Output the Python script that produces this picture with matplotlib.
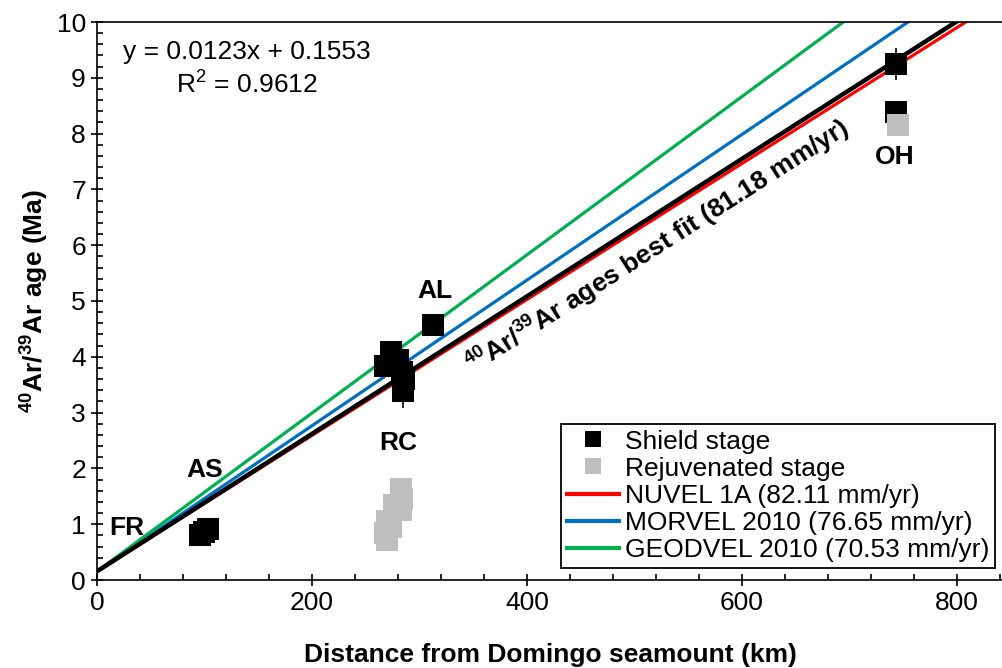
import matplotlib
matplotlib.use('Agg')
import matplotlib.pyplot as plt
from matplotlib.lines import Line2D
from matplotlib.ticker import MultipleLocator

plt.rcParams['font.family'] = ['Liberation Sans', 'DejaVu Sans']
plt.rcParams['mathtext.fontset'] = 'custom'
plt.rcParams['mathtext.rm'] = 'Liberation Sans'
plt.rcParams['mathtext.bf'] = 'Liberation Sans:bold'

# shield stage ages (km from Domingo, Ma, 1 sigma)
shield_dist = [96, 100, 103, 268, 274, 280, 284, 286, 285, 313, 743, 743]
shield_age = [0.80, 0.86, 0.92, 3.83, 4.08, 3.95, 3.72, 3.60, 3.38, 4.57, 9.25, 8.39]
shield_err = [0.05, 0.05, 0.05, 0.05, 0.05, 0.05, 0.05, 0.05, 0.30, 0.05, 0.29, 0.05]

# rejuvenated stage ages
rejuv_dist = [283, 284, 283, 276, 270, 268, 270, 274, 745]
rejuv_age = [1.63, 1.45, 1.25, 1.35, 1.05, 0.85, 0.72, 0.95, 8.15]

# plate velocity models, mm/yr == km/Myr
models = ['NUVEL 1A', 'MORVEL 2010', 'GEODVEL 2010']
rates = [82.11, 76.65, 70.53]
colors = ['#FF0000', '#0070C0', '#00B050']

fit_slope = 0.0123
fit_icpt = 0.1553
fit_rate = 81.18

volcanoes = ['FR', 'AS', 'RC', 'AL', 'OH']
vol_x = [28, 100, 280, 314, 742]
vol_y = [0.93, 1.97, 2.45, 5.18, 7.58]

fs = 19
grey = '#BFBFBF'

fig = plt.figure(figsize=(10.03, 6.68), dpi=100)
ax = fig.add_axes([97 / 1003, 88 / 668, 906 / 1003, 558 / 668])

xs = [0, 850]
for name, r, c in zip(models, rates, colors):
    ax.plot(xs, [fit_icpt + x / r for x in xs], color=c, lw=2.3, zorder=2)
ax.plot(xs, [fit_icpt + x / fit_rate for x in xs], color='black', lw=3.2, zorder=3)

ax.errorbar(shield_dist, shield_age, yerr=shield_err, fmt='s', color='black',
            ms=16.5, mew=0, ecolor='black', elinewidth=1.2, capsize=4, zorder=4)
ax.plot(rejuv_dist, rejuv_age, 's', color=grey, ms=16.5, mew=0, zorder=5)

for name, x, y in zip(volcanoes, vol_x, vol_y):
    ax.text(x, y, name, fontsize=fs, fontweight='bold', ha='center', va='center')

ax.text(0.165, 0.947, f'y = {fit_slope}x + {fit_icpt}', transform=ax.transAxes,
        fontsize=fs, ha='center', va='center')
ax.text(0.165, 0.889, f'R$^2$ = 0.9612', transform=ax.transAxes,
        fontsize=fs, ha='center', va='center')

ax.text(351, 3.68, r'$\mathbf{^{40}}$Ar/$\mathbf{^{39}}$Ar ages best fit (81.18 mm/yr)',
        fontsize=fs, fontweight='bold', rotation=32.6, rotation_mode='anchor',
        ha='left', va='baseline')

ax.set_xlim(0, 843)
ax.set_ylim(0, 10)
ax.xaxis.set_major_locator(MultipleLocator(200))
ax.xaxis.set_minor_locator(MultipleLocator(40))
ax.yaxis.set_major_locator(MultipleLocator(1))
ax.yaxis.set_minor_locator(MultipleLocator(0.2))
ax.tick_params(which='major', direction='inout', length=9, width=1.2, labelsize=fs)
ax.tick_params(which='minor', direction='in', length=4.5, width=1.2)
ax.spines['right'].set_visible(False)
for s in ['left', 'bottom', 'top']:
    ax.spines[s].set_linewidth(1.2)

ax.set_xlabel('Distance from Domingo seamount (km)', fontsize=fs, fontweight='bold',
              labelpad=20)
ax.set_ylabel(r'$\mathbf{^{40}}$Ar/$\mathbf{^{39}}$Ar age (Ma)', fontsize=fs, fontweight='bold')

handles = [Line2D([], [], ls='none', marker='s', color='black', ms=11.5, mew=0),
           Line2D([], [], ls='none', marker='s', color=grey, ms=11.5, mew=0)]
labels = ['Shield stage', 'Rejuvenated stage']
for name, r, c in zip(models, rates, colors):
    handles.append(Line2D([], [], color=c, lw=3))
    labels.append(f'{name} ({r:.2f} mm/yr)')

leg = ax.legend(handles, labels, loc='lower right',
                bbox_to_anchor=(0.991, 0.0215), borderaxespad=0, fontsize=fs,
                frameon=True, fancybox=False, edgecolor='black', framealpha=1,
                handlelength=2.0, handletextpad=0.2, labelspacing=0.12,
                borderpad=0.22)
leg.get_frame().set_linewidth(1.3)

fig.savefig('out.png', dpi=100)
